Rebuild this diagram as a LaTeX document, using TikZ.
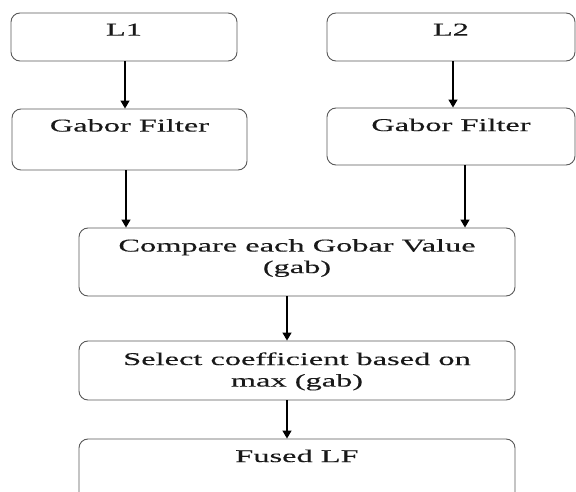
\documentclass[tikz,border=0pt]{standalone}
\usepackage{fontspec}
\setmainfont{Liberation Serif}
\newfontfamily\boxfont[FakeStretch=1.8, FakeBold=0.3]{Liberation Serif}
\usetikzlibrary{arrows.meta, positioning}

\begin{document}
\begin{tikzpicture}[
  x=1pt, y=1pt,
  blk/.style={draw=black!65, line width=0.9pt, rounded corners=9pt, inner sep=0pt},
  lbl/.style={anchor=base, align=center, inner sep=0pt, text=black!90, font=\boxfont\fontsize{18}{21.5}\selectfont},
  flow/.style={-{Triangle[width=9pt, length=8pt]}, line width=1.3pt}
]
\useasboundingbox (0,0) rectangle (576,-492);
\clip (0,0) rectangle (576,-492);
\node[blk, minimum width=226pt, minimum height=48pt] (l1) at (124,-37) {};
\node[blk, minimum width=248pt, minimum height=48pt] (l2) at (451,-37) {};
\node[blk, minimum width=235pt, minimum height=61pt] (gab1) at (129.5,-139.5) {};
\node[blk, minimum width=248pt, minimum height=57pt] (gab2) at (451,-136.5) {};
\node[blk, minimum width=436pt, minimum height=68pt] (comp) at (297,-262) {};
\node[blk, minimum width=436pt, minimum height=59pt] (sel) at (297,-370.5) {};
\node[blk, minimum width=436pt, minimum height=66pt] (fused) at (297,-472) {};

% texts (base = last line)
\node[lbl] (t-l1) at ([yshift=-23pt]l1.north) {L1};
\node[lbl] (t-l2) at ([yshift=-23pt]l2.north) {L2};
\node[lbl] (t-gab1) at ([yshift=-23pt]gab1.north) {Gabor Filter};
\node[lbl] (t-gab2) at ([yshift=-23.5pt]gab2.north) {Gabor Filter};
\node[lbl] (t-comp) at ([yshift=-45.5pt]comp.north) {Compare each Gobar Value\\(gab)};
\node[lbl] (t-sel) at ([yshift=-46pt]sel.north) {Select coefficient based on\\max (gab)};
\node[lbl] (t-fused) at ([yshift=-23.5pt]fused.north) {Fused LF};

% arrows
\draw[flow] ([xshift=1pt]l1.south) -- ([xshift=1pt]l1.south |- gab1.north);
\draw[flow] ([xshift=2pt]l2.south) -- ([xshift=2pt]l2.south |- gab2.north);
\draw[flow] ([xshift=-3.5pt]gab1.south) -- ([xshift=-3.5pt]gab1.south |- comp.north);
\draw[flow] ([xshift=14pt]gab2.south) -- ([xshift=14pt]gab2.south |- comp.north);
\draw[flow] ([xshift=-10pt]comp.south) -- ([xshift=-10pt]comp.south |- sel.north);
\draw[flow] ([xshift=-10pt]sel.south) -- ([xshift=-10pt]sel.south |- fused.north);
\end{tikzpicture}
\end{document}
